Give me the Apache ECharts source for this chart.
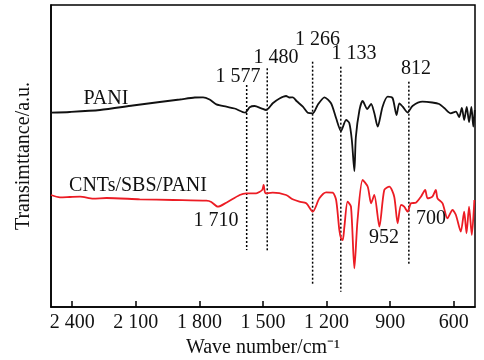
<!DOCTYPE html>
<html>
<head>
<meta charset="utf-8">
<script src="https://cdn.jsdelivr.net/npm/echarts@6/dist/echarts.min.js"></script>
<style>html,body{margin:0;padding:0;background:#fff}#c{width:484px;height:360px}</style>
</head>
<body>
<div id="c"></div>
<script>
// Wave numbers (cm^-1) and transmittance (a.u.)
var paniWn = [2500,2411,2269,2114,1987,1893,1822,1783,1752,1720,1673,1634,1584,1563,1540,1508,1485,1454,1422,1391,1375,1359,1342,1312,1289,1265,1242,1210,1179,1155,1132,1108,1093,1081,1069,1062,1045,1030,1008,990,975,959,936,912,889,870,857,841,818,795,748,702,669,645,614,590,575,562,551,539,528,517,508,501];
var paniT  = [194.3,195,197,201.5,205,207.5,209.5,209.7,207.5,202.7,200.3,198.5,194.3,199.7,201,198.7,197,203.7,208.5,211,209.5,209.7,206,200.3,194.3,193.7,202,209.7,203.7,188.7,176,187,184,167,136,170,197,206,198,203,194,180.3,200.3,210.3,209,192,203.7,200.3,194.5,201,205.3,204.5,203,199,193.7,195.3,190,199,187,200,185,200,180.3,197];

var compWn = [2500,2458,2411,2363,2301,2238,2081,1924,1767,1744,1713,1673,1610,1579,1532,1504,1497,1488,1454,1391,1360,1328,1296,1265,1234,1202,1171,1155,1140,1132,1124,1116,1101,1085,1069,1054,1030,1006,990,975,951,928,904,881,865,849,834,818,802,779,755,735,724,701,685,677,653,630,606,590,567,551,540,528,515,503];
var compT  = [112,109.7,110,110.3,108.3,109,107.7,107,106.3,105,100.3,104.3,112,113.7,113.7,117,122,113.7,114.3,112,107.7,105.3,103.7,95.3,108.7,114.7,114.3,107,77,68.7,67,80.3,105.3,100.3,38.7,87,127,120.3,103.7,112,80.3,117,120.3,110.3,83.7,102,100.3,95.3,103.7,104.3,110.3,117,108.7,110.3,117,108.7,103.7,88.7,97,92,75.3,95.3,73.7,100.3,72,107];

// Marked peaks (dotted guide lines): wave number, top and bottom of the guide
var peakWn     = [1577, 1480, 1266, 1133, 812];
var peakTop    = [222, 238.7, 245.3, 240.3, 225.3];
var peakBottom = [57, 56, 22, 15.3, 42];

var tickValues = [2400, 2100, 1800, 1500, 1200, 900, 600];

function fmt(v){
  if (v >= 1000) { var r = String(v % 1000); while (r.length < 3) r = '0' + r; return Math.floor(v/1000) + ' ' + r; }
  return String(v);
}
function pairs(xs, ys){ return xs.map(function(x,i){ return [x, ys[i]]; }); }

var FONT = '"Liberation Serif","Times New Roman",serif';
var series = [
  {type:'line', data: pairs(paniWn, paniT), showSymbol:false, smooth:0.25, lineStyle:{color:'#111', width:1.8}, z:3},
  {type:'line', data: pairs(compWn, compT), showSymbol:false, smooth:0.25, lineStyle:{color:'#ec1c24', width:1.8}, z:3}
];
peakWn.forEach(function(w,i){
  series.push({type:'line', data:[[w, peakTop[i]],[w, peakBottom[i]]], showSymbol:false, silent:true,
    lineStyle:{color:'#000', width:1.5, type:[2,2]}, z:2});
});

var labels = [
  ['1 577',238,76.5],['1 480',276,57.5],['1 266',317.5,39.5],['1 133',354,54],['812',416,69],
  ['PANI',106,98.5],['CNTs/SBS/PANI',138,185.5],['1 710',216,220.5],['952',384,238],['700',431,219]
];

var chart = echarts.init(document.getElementById('c'), null, {renderer:'canvas'});
chart.setOption({
  animation:false,
  backgroundColor:'#fff',
  grid:{left:51, right:9, top:5, bottom:53, show:true, borderColor:'#000', borderWidth:1.5, containLabel:false, outerBoundsMode:'none'},
  xAxis:{type:'value', inverse:true, min:500, max:2500,
    name:'Wave number/cm\u207B\u00B9', nameLocation:'middle', nameGap:30,
    nameTextStyle:{fontFamily:FONT, fontSize:20, color:'#111'},
    axisLine:{show:true, lineStyle:{color:'#000', width:1.5}},
    axisTick:{show:true, inside:true, length:6, lineStyle:{color:'#000', width:1.5}, customValues:tickValues},
    axisLabel:{show:true, margin:6, fontFamily:FONT, fontSize:20, color:'#111', customValues:tickValues, formatter:fmt},
    splitLine:{show:false}},
  yAxis:{type:'value', min:0, max:302,
    name:'Transimttance/a.u.', nameLocation:'middle', nameGap:17, nameRotate:90,
    nameTextStyle:{fontFamily:FONT, fontSize:20, color:'#111'},
    axisLine:{show:true, lineStyle:{color:'#000', width:1.5}},
    axisTick:{show:false}, axisLabel:{show:false}, splitLine:{show:false}},
  series: series,
  graphic: labels.map(function(l){
    return {type:'text', x:l[1], y:l[2], z:10, style:{text:l[0], fontFamily:FONT, fontSize:20, fill:'#111', align:'center', verticalAlign:'middle'}};
  })
});
</script>
</body>
</html>
